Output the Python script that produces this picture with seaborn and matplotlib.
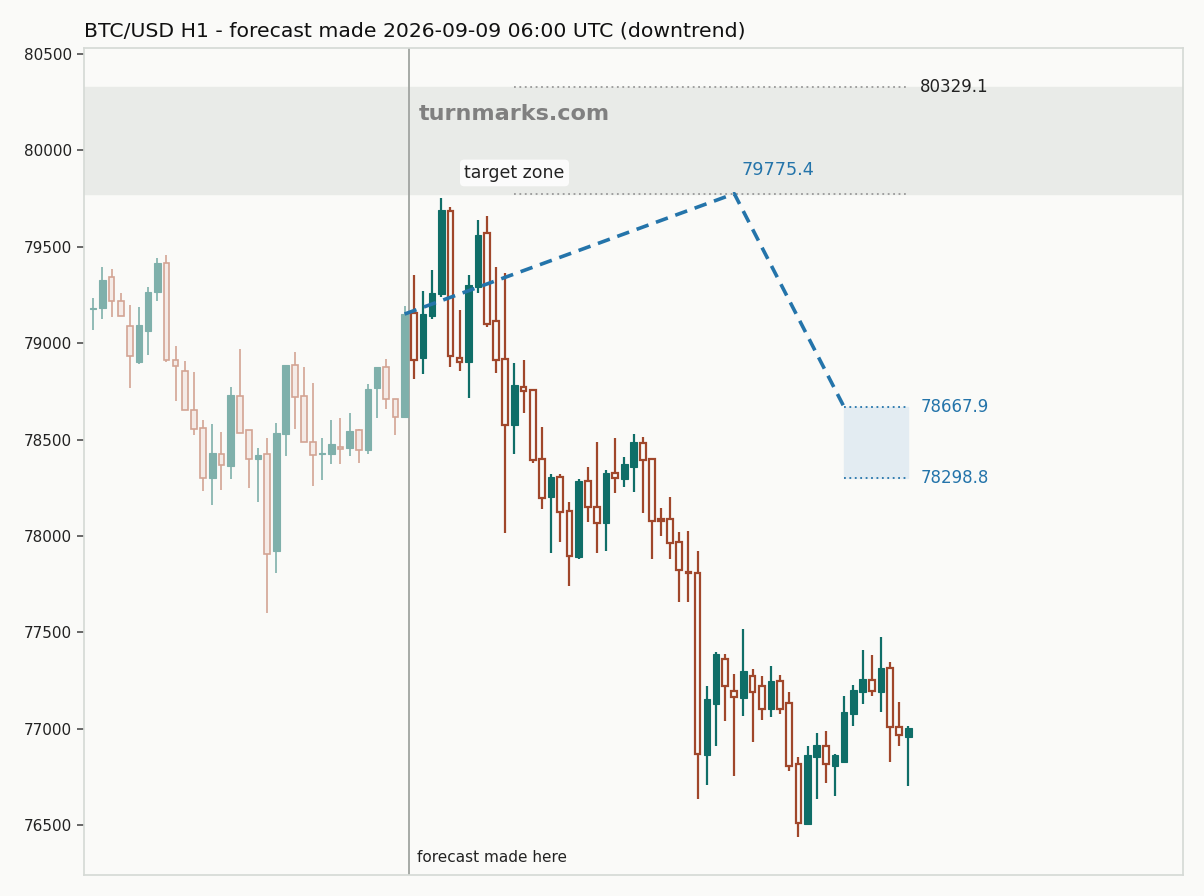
import matplotlib
matplotlib.use("Agg")
import matplotlib.pyplot as plt
import seaborn as sns
import numpy as np

# %% Datos: velas históricas (35) y velas de pronóstico (55)
hist_open = [79175, 79181, 79342, 79217, 79088, 78904, 79062, 79264, 79414, 78911,
             78854, 78652, 78558, 78299, 78424, 78364, 78724, 78548, 78398, 78424,
             77924, 78527, 78885, 78724, 78486, 78424, 78424, 78460, 78455, 78548,
             78444, 78766, 78875, 78709, 78619]
hist_high = [79233, 79394, 79383, 79259, 79197, 79190, 79293, 79440, 79459, 78987,
             78909, 78852, 78602, 78579, 78541, 78774, 78968, 78548, 78455, 78510,
             78588, 78885, 78956, 78878, 78795, 78510, 78602, 78610, 78640, 78555,
             78787, 78875, 78916, 78709, 79193]
hist_low = [79068, 79124, 79134, 79140, 78767, 78892, 78937, 79219, 78901, 78699,
            78652, 78524, 78235, 78161, 78239, 78294, 78532, 78247, 78175, 77599,
            77806, 78415, 78553, 78486, 78259, 78290, 78373, 78373, 78415, 78380,
            78424, 78610, 78657, 78524, 78619]
hist_close = [79180, 79328, 79217, 79140, 78932, 79093, 79264, 79414, 78911, 78880,
              78652, 78553, 78299, 78429, 78367, 78731, 78532, 78398, 78420, 77905,
              78532, 78885, 78719, 78486, 78419, 78429, 78476, 78450, 78544, 78444,
              78761, 78875, 78709, 78616, 79151]

fc_open = [79158, 78925, 79143, 79255, 79687, 78925, 78904, 79293, 79570, 79116,
           78920, 78574, 78774, 78756, 78398, 78204, 78304, 78128, 77893, 78284,
           78152, 78069, 78328, 78294, 78359, 78484, 78398, 78087, 78087, 77967,
           77815, 77806, 76866, 77130, 77360, 77198, 77161, 77272, 77220, 77103,
           77247, 77132, 76816, 76506, 76855, 76912, 76808, 76829, 77078, 77193,
           77251, 77191, 77313, 77011, 76959]
fc_high = [79354, 79271, 79380, 79753, 79705, 79172, 79354, 79639, 79660, 79394,
           79362, 78896, 78911, 78760, 78564, 78321, 78321, 78175, 78297, 78360,
           78487, 78342, 78507, 78411, 78529, 78512, 78398, 78144, 78201, 78022,
           78027, 77922, 77219, 77398, 77388, 77284, 77517, 77310, 77275, 77327,
           77279, 77192, 76853, 76910, 76980, 76988, 76869, 77172, 77227, 77408,
           77383, 77476, 77346, 77139, 77014]
fc_low = [78816, 78839, 79124, 79238, 78878, 78855, 78718, 79262, 79082, 78847,
          78014, 78424, 78640, 78377, 78138, 77913, 77970, 77742, 77882, 78072,
          77913, 77924, 78225, 78256, 78230, 78118, 77879, 78000, 77882, 77656,
          77656, 76637, 76708, 76910, 77042, 76755, 77068, 76931, 77045, 77061,
          77078, 76782, 76440, 76501, 76634, 76720, 76653, 76829, 77016, 77130,
          77172, 77089, 76829, 76912, 76705]
fc_close = [78911, 79151, 79259, 79691, 78932, 78901, 79300, 79560, 79098, 78911,
            78574, 78783, 78750, 78393, 78197, 78304, 78124, 77895, 78285, 78149,
            78068, 78325, 78299, 78372, 78487, 78394, 78080, 78080, 77962, 77824,
            77810, 76869, 77154, 77388, 77220, 77163, 77297, 77192, 77104, 77248,
            77101, 76807, 76510, 76862, 76916, 76816, 76864, 77085, 77201, 77258,
            77194, 77315, 77008, 76968, 77004]

# trayectoria del pronóstico y zonas
path_idx = [34, 70, 82]
path_val = [79151, 79775.4, 78667.9]
target_lo, target_hi = 79775.4, 80329.1
range_lo, range_hi = 78298.8, 78667.9
y_ticks = [76500, 77000, 77500, 78000, 78500, 79000, 79500, 80000, 80500]

# %% Estilo
BG = "#fafaf8"
TEAL = "#0f6e68"
RED = "#a0472b"
BLUE = "#2474aa"

sns.set_theme(style="white", rc={
    "figure.facecolor": BG, "axes.facecolor": BG,
    "axes.edgecolor": "#d6dad6", "ytick.left": True,
    "ytick.color": "#555555", "ytick.major.size": 5,
})
plt.rcParams["font.family"] = ["DejaVu Sans"]

fig = plt.figure(figsize=(12.04, 8.96), dpi=100)
ax = fig.add_axes([0.0698, 0.0234, 0.9128, 0.923])


def draw_candles(x0, o, h, l, c, up, down_edge, down_face, lw):
    x = np.arange(len(o)) + x0
    o, h, l, c = map(np.asarray, (o, h, l, c))
    rising = c >= o
    wick_col = [up if r else down_edge for r in rising]
    ax.vlines(x, l, h, colors=wick_col, linewidth=lw, zorder=2)
    bottom = np.minimum(o, c)
    height = np.maximum(np.abs(c - o), 4)
    ax.bar(x[rising], height[rising], bottom=bottom[rising], width=0.72,
           color=up, edgecolor=up, linewidth=0.8, zorder=3)
    ax.bar(x[~rising], height[~rising], bottom=bottom[~rising], width=0.62,
           color=down_face, edgecolor=down_edge, linewidth=lw, zorder=3)


# %% Zona objetivo y rango
ax.axhspan(target_lo, target_hi, color="#e9ebe8", zorder=0)
ax.hlines([target_hi, target_lo], 46, 88.8, colors="#999999",
          linestyles=(0, (1, 2)), linewidth=1.3, zorder=1)
ax.fill_between([82, 89], range_lo, range_hi, color="#e3ecf2", zorder=0)
ax.hlines([range_hi, range_lo], 82, 88.8, colors=BLUE,
          linestyles=(0, (1, 2)), linewidth=1.3, zorder=1)

# %% Velas
draw_candles(0, hist_open, hist_high, hist_low, hist_close,
             "#7fb0ab", "#d3a494", "#f5ebe7", 1.2)
draw_candles(35, fc_open, fc_high, fc_low, fc_close,
             TEAL, RED, BG, 1.6)

ax.axvline(34.5, color="#a0a4a0", linewidth=1.3, zorder=1)

# %% Trayectoria del pronóstico
sns.lineplot(x=path_idx, y=path_val, ax=ax, color=BLUE, linewidth=2.6,
             linestyle=(0, (3.5, 2.2)), zorder=5)

# %% Textos
ax.text(90.3, target_hi, f"{target_hi:.1f}", color="#222222", fontsize=12,
        va="center", ha="left")
ax.text(90.3, range_hi, f"{range_hi:.1f}", color=BLUE, fontsize=12,
        va="center", ha="left")
ax.text(90.3, range_lo, f"{range_lo:.1f}", color=BLUE, fontsize=12,
        va="center", ha="left")
ax.text(70.8, 79900, f"{path_val[1]:.1f}", color=BLUE, fontsize=12.7,
        va="center", ha="left")
ax.text(35.6, 80190, "turnmarks.com", color="#808080", fontsize=16.1,
        fontweight="bold", va="center", ha="left")
ax.text(46, 79883, "target zone", color="#222222", fontsize=12.5,
        va="center", ha="center",
        bbox=dict(boxstyle="round,pad=0.25", fc="white", ec="none", alpha=0.85))
ax.text(35.4, 76330, "forecast made here", color="#222222", fontsize=11,
        va="center", ha="left")

ax.set_xlim(-1, 119)
ax.set_ylim(76241, 80531)
ax.set_yticks(y_ticks)
ax.set_yticklabels([str(v) for v in y_ticks], fontsize=11, color="#222222")
ax.set_xticks([])
ax.set_xlabel("")
ax.set_ylabel("")
ax.set_title("BTC/USD H1 - forecast made 2026-09-09 06:00 UTC (downtrend)",
             loc="left", fontsize=14.7, color="#111111", pad=8)

fig.savefig("out.png", dpi=100, facecolor=BG)
